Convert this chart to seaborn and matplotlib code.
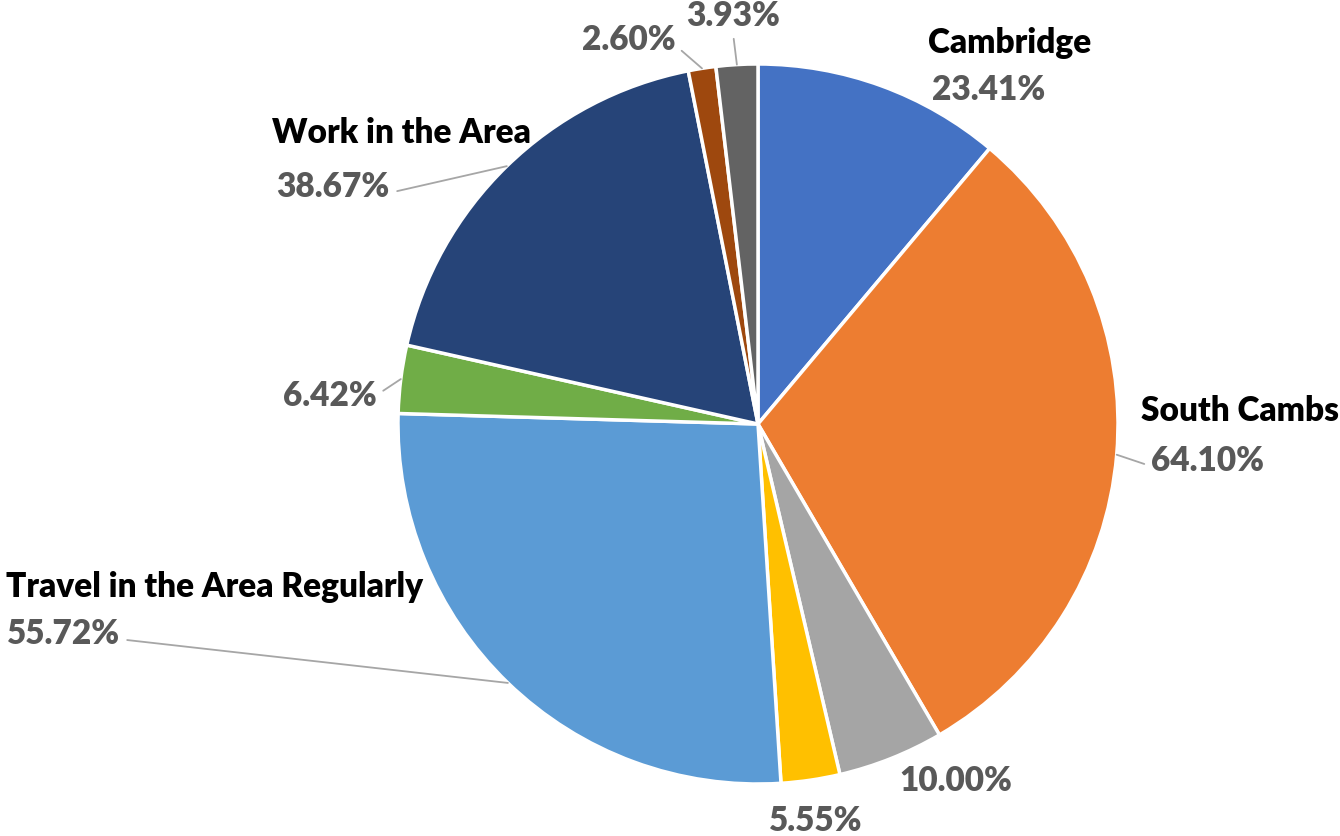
import numpy as np
import matplotlib.pyplot as plt
import seaborn as sns

# survey responses (share of respondents, multiple answers allowed)
categories = ['Cambridge', 'South Cambs', '', '', 'Travel in the Area Regularly',
              '', 'Work in the Area', '', '']
values = [23.41, 64.10, 10.00, 5.55, 55.72, 6.42, 38.67, 2.60, 3.93]
colors = ['#4472C4', '#ED7D31', '#A5A5A5', '#FFC000', '#5B9BD5',
          '#70AD47', '#264478', '#9E480E', '#636363']

# label placement (pie units) and leader line anchor on the text
pct_pos = [(0.64, 0.93), (1.25, -0.10), (0.55, -0.99), (0.16, -1.10), (-1.93, -0.58),
           (-1.19, 0.08), (-1.18, 0.66), (-0.36, 1.07), (-0.07, 1.135)]
name_pos = [(0.70, 1.06), (1.34, 0.04), None, None, (-1.51, -0.45),
            None, (-0.99, 0.81), None, None]
leader = [None, (0.0, 0.3), None, None, (1.0, 0.3),
          (1.0, 0.5), (1.0, 0.3), (1.0, 0.3), (0.5, 0.0)]

sns.set_theme(style='white')
plt.rcParams['font.family'] = ['Lato', 'DejaVu Sans']

fig = plt.figure(figsize=(13.4, 8.37), dpi=100)
ax = fig.add_axes([0, 0, 1, 1])

wedges, _ = ax.pie(values, colors=colors, startangle=90, counterclock=False,
                   radius=1.0, wedgeprops=dict(edgecolor='white', linewidth=2.5))

fs = 24
total = sum(values)
cum = 0
for i, v in enumerate(values):
    mid = (cum + v / 2) / total * 2 * np.pi
    cum += v
    edge = (np.sin(mid), np.cos(mid))
    label = f'{v:.2f}%'
    if leader[i] is not None:
        ax.annotate(label, xy=edge, xytext=pct_pos[i], ha='center', va='center',
                    fontsize=fs, fontweight='heavy', color='#595959',
                    arrowprops=dict(arrowstyle='-', color='#A6A6A6', lw=1.3,
                                    shrinkA=3, shrinkB=0, relpos=leader[i]))
    else:
        ax.text(*pct_pos[i], label, ha='center', va='center',
                fontsize=fs, fontweight='heavy', color='#595959')
    if name_pos[i] is not None:
        ax.text(*name_pos[i], categories[i], ha='center', va='center',
                fontsize=fs, fontweight='heavy', color='black')

ax.set_xlim(-758 / 360, (1340 - 758) / 360)
ax.set_ylim(-(837 - 425) / 360, 425 / 360)
ax.set_aspect('auto')
ax.axis('off')

plt.savefig('out.png', dpi=100)
